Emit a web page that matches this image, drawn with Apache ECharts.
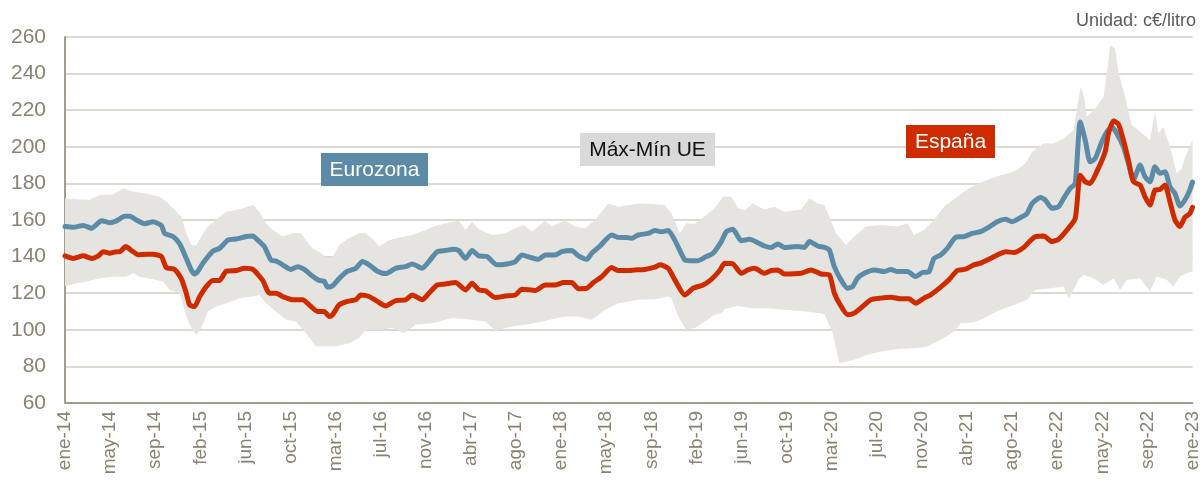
<!DOCTYPE html>
<html>
<head>
<meta charset="utf-8">
<title>Precios carburante: España, Eurozona y rango UE</title>
<script src="https://cdn.jsdelivr.net/npm/echarts@6/dist/echarts.min.js"></script>
<style>
  html, body { margin: 0; padding: 0; background: #ffffff; }
  #chart { width: 1202px; height: 482px; }
</style>
</head>
<body>
<div id="chart"></div>
<script>
// Weekly series, x = week number counted from the first week of January 2014.
// Axis labels sit every 19 weeks.
const tickLabels = [
  'ene-14', 'may-14', 'sep-14', 'feb-15', 'jun-15', 'oct-15', 'mar-16', 'jul-16',
  'nov-16', 'abr-17', 'ago-17', 'ene-18', 'may-18', 'sep-18', 'feb-19', 'jun-19',
  'oct-19', 'mar-20', 'jul-20', 'nov-20', 'abr-21', 'ago-21', 'ene-22', 'may-22',
  'sep-22', 'ene-23'
];

// Eurozona average, c€/litro  [week, value]
const eurozona = [
  [0,156.4],[3.5,156],[7.7,157],[11.2,155.5],[15.4,159.6],[18.9,158.5],[21.7,159.5],[25.2,162],[27.3,162],
  [30.1,160],[33.6,158],[37.1,159],[40.6,157],[42,152.7],[45.5,151],[48.3,147],[51.1,139],[53.2,132.7],
  [54.6,130.5],[56,132],[58.1,136.4],[62.3,143],[65.1,144.5],[68.6,149],[72.1,149.6],[76.3,151],[79.1,151.3],
  [81.2,149],[84,145.5],[86.8,138],[88.9,137.6],[91.7,135.5],[95.2,133],[98,134.5],[100.8,133],[103.6,130],
  [107.1,127],[109.2,126.5],[110.6,123.3],[112.7,124],[115.5,128],[119,132],[122.5,133.6],[125.3,137.3],
  [128.1,135.5],[131.6,132],[135.1,130.7],[139.3,133.6],[143.5,134.5],[146.3,136],[150.5,133.6],[153.3,137.3],
  [156.8,142.7],[160.3,143.3],[163.8,144],[165.9,143.3],[168.7,139],[171.5,143.3],[174.3,140.4],[177.8,140],
  [182,135.5],[186.2,136],[189.7,137.3],[192.5,140.9],[196,139.6],[199.5,138.5],[202.3,140.9],[206.5,140.9],
  [209.3,142.7],[213.5,143.3],[216.3,140.4],[219.8,138.5],[221.9,141.8],[225.4,145.8],[230.3,151.8],
  [233.1,150.5],[236.6,150.4],[238.7,150],[241.5,151.8],[245.7,152.7],[248.5,154.2],[251.3,153.6],[254.1,154.2],
  [256.9,149],[261.1,138.2],[263.2,137.8],[266.7,137.8],[270.2,140],[273,141.8],[276.5,148.2],[278.6,153.6],
  [281.4,154.9],[284.9,148.7],[288.4,149.5],[291.9,147.6],[294.7,145.8],[297.5,145],[300.3,146.9],[303.1,145],
  [308.7,145.5],[311.5,145],[313.6,148.2],[317.1,145.8],[319.9,145],[322,143.6],[324.1,134.5],[326.9,127.3],
  [329.7,122.7],[331.8,123.6],[333.9,128.2],[336.7,130.9],[340.9,132.7],[345.1,131.8],[347.9,133],[350.7,131.8],
  [354.9,131.8],[358.4,129.1],[361.2,131.3],[364,131.8],[366.1,139],[368.9,140.9],[371.7,144.5],[375.2,150.5],
  [378.7,150.9],[382.2,152.7],[385.7,153.6],[388.5,155.5],[392.7,159.1],[396.2,160.4],[399,159.1],[403.2,161.8],
  [405.3,163.6],[407.4,169],[410.9,172.3],[413,170.9],[415.8,166.4],[418.6,167.3],[420.7,171.8],[423.5,177.3],
  [425.6,180],[427.7,213.6],[429.8,203.6],[431.9,191.8],[434,193.6],[436.8,202.7],[438.9,208.2],[441,210.9],
  [443.1,207.3],[445.9,200],[448,190.9],[450.1,181.8],[452.9,190],[455,183.6],[457.1,180.9],[459.2,189.1],
  [461.3,185.5],[463.4,186.4],[465.5,178.2],[467.6,174.5],[469.7,167.6],[471.8,170.9],[473.9,176.4],[475,180.7]
];

// España, c€/litro  [week, value]
const espana = [
  [0,140.4],[3.5,139],[7.7,140.4],[11.2,139],[14,140.4],[16.1,142.7],[18.9,141.8],[21.7,142.7],[23.1,142.7],
  [25.6,145.5],[28,143.3],[30.8,141],[34.3,141.3],[37.1,141.3],[40.6,140],[42.7,134],[46.2,133],[49,128],
  [51.1,120],[52.5,113.6],[54.6,112.7],[56.7,118],[59.5,123.6],[62.3,127],[65.1,127],[67.9,132],[72.1,132.4],
  [75.6,133.6],[79.1,133],[83.3,127],[86.1,120],[88.9,120],[91.7,118.2],[95.9,116.4],[100.1,116.4],[102.9,113.6],
  [106.4,110],[109.2,110],[111.3,107.3],[112.7,108.2],[115.5,113.6],[119,115.5],[122.5,116.4],[124.6,119],
  [128.1,118.2],[131.6,115.5],[135.1,113],[139.3,116],[143.5,116.4],[146.3,119],[150.5,116.4],[153.3,120],
  [156.8,124.5],[160.3,125],[164.5,125.8],[168.7,121.8],[171.5,125.5],[174.3,121.8],[177.1,121.3],[181.3,117.6],
  [185.5,118.5],[189.7,119],[192.5,122.2],[198.1,121.5],[202.3,124.5],[206.5,124.5],[210,125.8],[213.5,125.8],
  [216.3,122.5],[219.8,122.7],[222.6,125.8],[226.1,129],[230.3,134],[233.1,132.4],[236.6,132.4],[240.1,132.7],
  [244.3,133],[248.5,134.2],[250.6,135.5],[254.1,133.6],[256.9,127.3],[261.1,119],[264.6,122.7],[268.8,124.5],
  [272.3,127.6],[275.8,132.4],[277.9,136.4],[281.4,136],[284.9,130.9],[287.7,132.7],[290.5,133.6],[294.7,130.9],
  [297.5,132.4],[300.3,132.7],[303.1,130.5],[310.1,130.9],[314.3,132.7],[318.5,130.5],[322,130],[324.1,120],
  [326.2,114.5],[329.7,108.2],[332.5,109.1],[336,112.7],[339.5,116.4],[343.7,117.3],[347.9,117.8],[352.1,116.9],
  [355.6,116.9],[358.4,114.5],[361.9,117.3],[364.7,119.1],[368.9,123.3],[372.4,127.3],[375.9,132.4],[379.4,133.1],
  [382.9,135.5],[385.7,136.4],[389.2,138.5],[392.7,140.9],[396.2,142.7],[399.7,142.2],[403.9,145],[406.7,148.7],
  [408.8,150.9],[412.3,151.3],[415.8,148.2],[418.6,149.5],[422.1,154.5],[425.6,160.9],[427.7,184.5],[429.8,180.9],
  [431.9,180],[434.7,186.4],[438.2,197.3],[439.6,207.3],[441.7,214.2],[443.8,212.4],[445.9,203.6],[448,192.7],
  [450.1,180.9],[452.9,179.1],[455,172.7],[457.1,168.2],[459.2,176.4],[461.3,176.7],[463.4,179.1],[465.5,170],
  [467.6,160],[469.7,156.4],[471.8,161.5],[473.9,163.6],[475,166.9]
];

// Highest national price in the EU, c€/litro  [week, value]
const ueMax = [
  [0,171.8],[4.9,171.3],[10.5,171],[14.7,173.6],[20.3,174],[24.5,177.3],[28.7,175.5],[34.3,174.5],[39.9,172.7],
  [42.7,170],[45.5,166.4],[49,161.8],[51.1,152.7],[53.2,146.4],[55.3,146],[57.4,151],[60.2,156.4],[63.7,160],
  [67.9,164.5],[70.7,165],[74.9,166.4],[79.1,168.2],[81.9,164.5],[84.7,158.2],[87.5,154.5],[91.7,151],
  [95.9,152.7],[99.4,152.7],[101.5,149],[104.3,144.5],[107.8,141.8],[110.6,139],[112.7,139.6],[115.5,146.4],
  [119.7,150],[123.9,152.7],[126.7,152.7],[130.2,149],[132.3,145.5],[136.5,149],[140.7,150.4],[146.3,151.8],
  [151.9,154.5],[155.4,156.4],[160.3,158.2],[165.9,159.6],[168.7,154.5],[171.5,159],[174.3,155],[179.9,151.8],
  [185.5,152.7],[189.7,155.5],[193.2,157.3],[196.7,153.6],[202.3,159.6],[205.1,156.4],[210.7,159.6],[214.9,156.4],
  [219.1,155.5],[223.3,160],[228.9,169],[233.1,167.3],[241.5,169],[248.5,168.6],[252.7,168.2],[255.5,163.6],
  [259,152.7],[261.8,158.2],[265.3,157.8],[270.2,162.7],[273.7,166.4],[277.2,172.7],[280.7,172.7],[283.5,166.4],
  [286.3,165.5],[289.8,169],[294.7,165.8],[298.9,167.3],[303.1,164.5],[310.1,165.8],[313.6,171.8],[317.1,169],
  [319.9,168.2],[322,161.8],[324.8,152.7],[329,146.4],[332.5,151],[337.4,156.4],[343.7,157.3],[350.7,156.4],
  [354.9,158.2],[357.7,151.8],[361.9,154.5],[366.1,160],[370.3,167.3],[374.5,171.3],[380.8,177.3],[388.5,181.8],
  [394.1,184.5],[399.7,186.4],[404.6,190.9],[407.4,197.3],[412.3,201.8],[416.5,201.8],[420.7,204.5],[424.9,209.1],
  [427,226.4],[428,233.1],[429.4,226.4],[430.5,216.4],[434.7,221.8],[437.5,227.3],[438.9,240],[440.3,255.5],
  [442.4,253.6],[443.8,240.9],[446.6,227.3],[449.4,211.8],[452.9,208.2],[457.1,203.6],[459.2,219.1],[460.6,207.3],
  [462.7,210.9],[465.5,200],[468.3,185.5],[470.4,188.2],[472.5,196.4],[475,203.6]
];

// Lowest national price in the EU, c€/litro  [week, value]
const ueMin = [
  [0,123.6],[4.9,125.5],[9.1,126.4],[14.7,128.2],[20.3,129],[25.9,129],[28.7,131],[31.5,129],[37.1,127.6],
  [41.3,126.4],[44.1,121.8],[48.3,120],[51.1,107.3],[53.2,101],[55.3,97.3],[57.4,101],[60.2,110],[63.7,112.7],
  [67.9,114.5],[73.5,117.3],[79.1,118.2],[81.9,119],[84.7,114.5],[88.9,110],[93.1,105.5],[97.3,104.5],
  [101.5,98.2],[105.7,91],[109.9,91],[114.1,91],[119.7,92.7],[123.9,95.5],[126.7,100],[132.3,100],[137.9,101],
  [142.8,98.2],[147.7,102.7],[154.7,103.6],[163.1,106.4],[171.5,105.5],[177.1,104.5],[181.3,99.6],[188.3,101.8],
  [193.9,102.7],[199.5,104],[205.1,105.8],[210.7,107.3],[216.3,107.3],[221.9,105.5],[227.5,111],[233.1,114.5],
  [241.5,116.4],[248.5,116.7],[254.1,118.2],[255.5,117.3],[258.3,107.3],[261.8,100],[265.3,101],[269.5,104.5],
  [273.7,108.2],[276.5,109],[277.9,111.3],[283.5,113],[289.1,111.8],[296.1,111.8],[303.1,111],[312.9,110],
  [319.9,108.7],[323.4,98.2],[326.2,81.8],[332.5,83.6],[338.1,86.4],[343.7,88.2],[350.7,89.5],[359.1,90],
  [363.3,90.9],[368.9,94.5],[374.5,99.1],[377.3,103.6],[382.9,104],[388.5,107.3],[394.1,110.9],[399.7,113.6],
  [405.3,116.4],[408.8,121.8],[415.1,122.7],[420.7,123.6],[422.8,117.3],[424.9,121.8],[427,127.3],[429.1,130],
  [433.3,128.2],[437.5,124.5],[441.7,128.2],[444.5,121.8],[447.3,127.3],[452.9,128.2],[457.1,120.9],[459.9,129.1],
  [464.1,127.3],[466.9,123.6],[469.7,129.1],[472.5,130.9],[475,131.8]
];

const FONT = '"Liberation Sans", Arial, sans-serif';
const AXIS_TEXT = '#8a8272';
const BAND = '#e6e4e0';
const BLUE = '#5b8ba7';
const RED = '#cf2b00';

const chart = echarts.init(document.getElementById('chart'), null, { renderer: 'canvas' });

// Label boxes placed over the plot
function tag(left, top, w, h, bg, color, text) {
  return {
    type: 'group', left: left, top: top, z: 100,
    children: [
      { type: 'rect', z: 100, shape: { x: 0, y: 0, width: w, height: h }, style: { fill: bg } },
      {
        type: 'text', z: 101, x: w / 2, y: h / 2 + 1,
        style: { text: text, fill: color, font: '21px ' + FONT, align: 'center', verticalAlign: 'middle' }
      }
    ]
  };
}

chart.setOption({
  animation: false,
  backgroundColor: '#ffffff',
  grid: { left: 65, right: 6, top: 37, bottom: 79, containLabel: false },
  xAxis: {
    type: 'value',
    min: 0, max: 475, interval: 19,
    axisLine: { show: true, lineStyle: { color: '#a39c90', width: 2 } },
    axisTick: { show: false },
    splitLine: { show: false },
    axisLabel: {
      rotate: 90,
      margin: 8,
      color: AXIS_TEXT,
      fontFamily: FONT,
      fontSize: 19,
      showMinLabel: true,
      showMaxLabel: true,
      formatter: function (v) { return tickLabels[Math.round(v / 19)] || ''; }
    }
  },
  yAxis: {
    type: 'value',
    min: 60, max: 260, interval: 20,
    axisLine: { show: true, lineStyle: { color: '#a39c90', width: 2 } },
    axisTick: { show: false },
    splitLine: { show: true, lineStyle: { color: '#dcd8d2', width: 2 } },
    axisLabel: { color: AXIS_TEXT, fontFamily: FONT, fontSize: 21, margin: 19 }
  },
  graphic: [
    {
      type: 'text', right: 6, top: 12, z: 100,
      style: { text: 'Unidad: c€/litro', fill: '#5a5a5a', font: '18px ' + FONT }
    },
    tag(321, 153, 107, 33, BLUE, '#ffffff', 'Eurozona'),
    tag(580, 133, 135, 33, '#d9d9d9', '#111111', 'Máx-Mín UE'),
    tag(906, 125, 89, 33, RED, '#ffffff', 'España')
  ],
  series: [
    {
      name: 'Máx-Mín UE',
      type: 'custom',
      clip: true,
      silent: true,
      z: 1,
      data: [[0, 60]],
      renderItem: function (params, api) {
        const upper = ueMax.map(function (p) { return api.coord(p); });
        const lower = ueMin.slice().reverse().map(function (p) { return api.coord(p); });
        return {
          type: 'polygon',
          shape: { points: upper.concat(lower) },
          style: { fill: BAND }
        };
      }
    },
    {
      name: 'Eurozona',
      type: 'line',
      z: 3,
      data: eurozona,
      showSymbol: false,
      smooth: 0.2,
      lineStyle: { color: BLUE, width: 5, join: 'round', cap: 'round' }
    },
    {
      name: 'España',
      type: 'line',
      z: 4,
      data: espana,
      showSymbol: false,
      smooth: 0.2,
      lineStyle: { color: RED, width: 5, join: 'round', cap: 'round' }
    }
  ]
});
</script>
</body>
</html>
